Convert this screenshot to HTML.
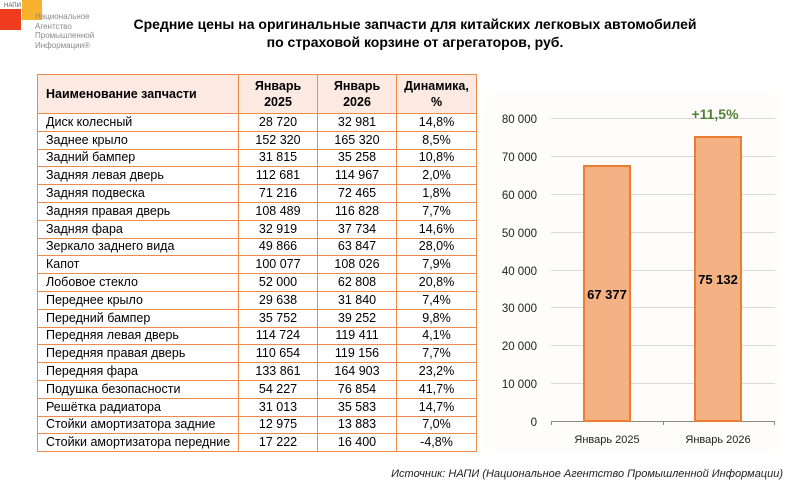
<!DOCTYPE html>
<html><head><meta charset="utf-8"><style>
body{margin:0;width:789px;height:485px;background:#fff;font-family:"Liberation Sans",sans-serif;position:relative;overflow:hidden}
.t{position:absolute}
table{position:absolute;left:37px;top:74px;border-collapse:collapse;font-size:12.5px;color:#000}
td{border:1.5px solid #F08A4B;height:16.3px;padding:0 0 0 8px;line-height:15px;white-space:nowrap}
tr:not(.h) td{height:16.3px;box-sizing:border-box}
tr:not(.h){height:17.8px}
td.n{text-align:center;padding:0}
tr.h td{background:#FBE9E2;font-weight:bold;height:38px;line-height:16px}
</style></head><body>
<div class="t" style="left:0;top:9px;width:21px;height:21px;background:#F03C1E"></div>
<div class="t" style="left:22px;top:0;width:20px;height:20px;background:#F8B230"></div>
<div class="t" style="left:4px;top:3px;font-size:6px;color:#555">НАПИ</div>
<div class="t" style="left:35px;top:12px;font-size:8px;line-height:9.5px;color:#8a8a8a">Национальное<br>Агентство<br>Промышленной<br>Информации®</div>
<div class="t" style="left:100px;top:15px;width:630px;text-align:center;font-weight:bold;font-size:14px;line-height:18px">Средние цены на оригинальные запчасти для китайских легковых автомобилей<br>по страховой корзине от агрегаторов, руб.</div>
<table>
<colgroup><col style="width:201px"><col style="width:79px"><col style="width:79px"><col style="width:80px"></colgroup>
<tr class="h"><td>Наименование запчасти</td><td class="n">Январь<br>2025</td><td class="n">Январь<br>2026</td><td class="n">Динамика,<br>%</td></tr>
<tr><td>Диск колесный</td><td class="n">28 720</td><td class="n">32 981</td><td class="n">14,8%</td></tr>
<tr><td>Заднее крыло</td><td class="n">152 320</td><td class="n">165 320</td><td class="n">8,5%</td></tr>
<tr><td>Задний бампер</td><td class="n">31 815</td><td class="n">35 258</td><td class="n">10,8%</td></tr>
<tr><td>Задняя левая дверь</td><td class="n">112 681</td><td class="n">114 967</td><td class="n">2,0%</td></tr>
<tr><td>Задняя подвеска</td><td class="n">71 216</td><td class="n">72 465</td><td class="n">1,8%</td></tr>
<tr><td>Задняя правая дверь</td><td class="n">108 489</td><td class="n">116 828</td><td class="n">7,7%</td></tr>
<tr><td>Задняя фара</td><td class="n">32 919</td><td class="n">37 734</td><td class="n">14,6%</td></tr>
<tr><td>Зеркало заднего вида</td><td class="n">49 866</td><td class="n">63 847</td><td class="n">28,0%</td></tr>
<tr><td>Капот</td><td class="n">100 077</td><td class="n">108 026</td><td class="n">7,9%</td></tr>
<tr><td>Лобовое стекло</td><td class="n">52 000</td><td class="n">62 808</td><td class="n">20,8%</td></tr>
<tr><td>Переднее крыло</td><td class="n">29 638</td><td class="n">31 840</td><td class="n">7,4%</td></tr>
<tr><td>Передний бампер</td><td class="n">35 752</td><td class="n">39 252</td><td class="n">9,8%</td></tr>
<tr><td>Передняя левая дверь</td><td class="n">114 724</td><td class="n">119 411</td><td class="n">4,1%</td></tr>
<tr><td>Передняя правая дверь</td><td class="n">110 654</td><td class="n">119 156</td><td class="n">7,7%</td></tr>
<tr><td>Передняя фара</td><td class="n">133 861</td><td class="n">164 903</td><td class="n">23,2%</td></tr>
<tr><td>Подушка безопасности</td><td class="n">54 227</td><td class="n">76 854</td><td class="n">41,7%</td></tr>
<tr><td>Решётка радиатора</td><td class="n">31 013</td><td class="n">35 583</td><td class="n">14,7%</td></tr>
<tr><td>Стойки амортизатора задние</td><td class="n">12 975</td><td class="n">13 883</td><td class="n">7,0%</td></tr>
<tr><td>Стойки амортизатора передние</td><td class="n">17 222</td><td class="n">16 400</td><td class="n">-4,8%</td></tr>
</table>
<svg class="t" style="left:0;top:0" width="789" height="485" font-family="Liberation Sans, sans-serif">
<rect x="484" y="92" width="296" height="360" fill="#fefdfc"/>
<g stroke="#d9d9d9" stroke-width="1">
<line x1="551" x2="775" y1="118.5" y2="118.5"/><line x1="551" x2="775" y1="156.5" y2="156.5"/>
<line x1="551" x2="775" y1="194.5" y2="194.5"/><line x1="551" x2="775" y1="232.5" y2="232.5"/>
<line x1="551" x2="775" y1="270.5" y2="270.5"/><line x1="551" x2="775" y1="307.5" y2="307.5"/>
<line x1="551" x2="775" y1="345.5" y2="345.5"/><line x1="551" x2="775" y1="383.5" y2="383.5"/>
</g>
<g stroke="#888"><line x1="551" x2="775" y1="421.5" y2="421.5"/><line x1="551.5" x2="551.5" y1="421" y2="425"/><line x1="663.5" x2="663.5" y1="421" y2="425"/><line x1="774.5" x2="774.5" y1="421" y2="425"/></g>
<g font-size="11.5" fill="#222" text-anchor="end">
<text x="537" y="123">80 000</text><text x="537" y="161">70 000</text><text x="537" y="199">60 000</text>
<text x="537" y="237">50 000</text><text x="537" y="275">40 000</text><text x="537" y="312">30 000</text>
<text x="537" y="350">20 000</text><text x="537" y="388">10 000</text><text x="537" y="426">0</text>
</g>
<rect x="584" y="166" width="46" height="255" fill="#F4B183" stroke="#ED7D31" stroke-width="2"/>
<rect x="695" y="137" width="46" height="284" fill="#F4B183" stroke="#ED7D31" stroke-width="2"/>
<text x="607" y="299" font-size="13" font-weight="bold" text-anchor="middle">67 377</text>
<text x="718" y="284" font-size="13" font-weight="bold" text-anchor="middle">75 132</text>
<text x="715" y="119" font-size="14" font-weight="bold" fill="#548235" text-anchor="middle">+11,5%</text>
<g font-size="11" fill="#222" text-anchor="middle"><text x="607" y="443">Январь 2025</text><text x="718" y="443">Январь 2026</text></g>
<text x="783" y="477" font-size="11" font-style="italic" fill="#222" text-anchor="end">Источник: НАПИ (Национальное Агентство Промышленной Информации)</text>
</svg>
</body></html>
